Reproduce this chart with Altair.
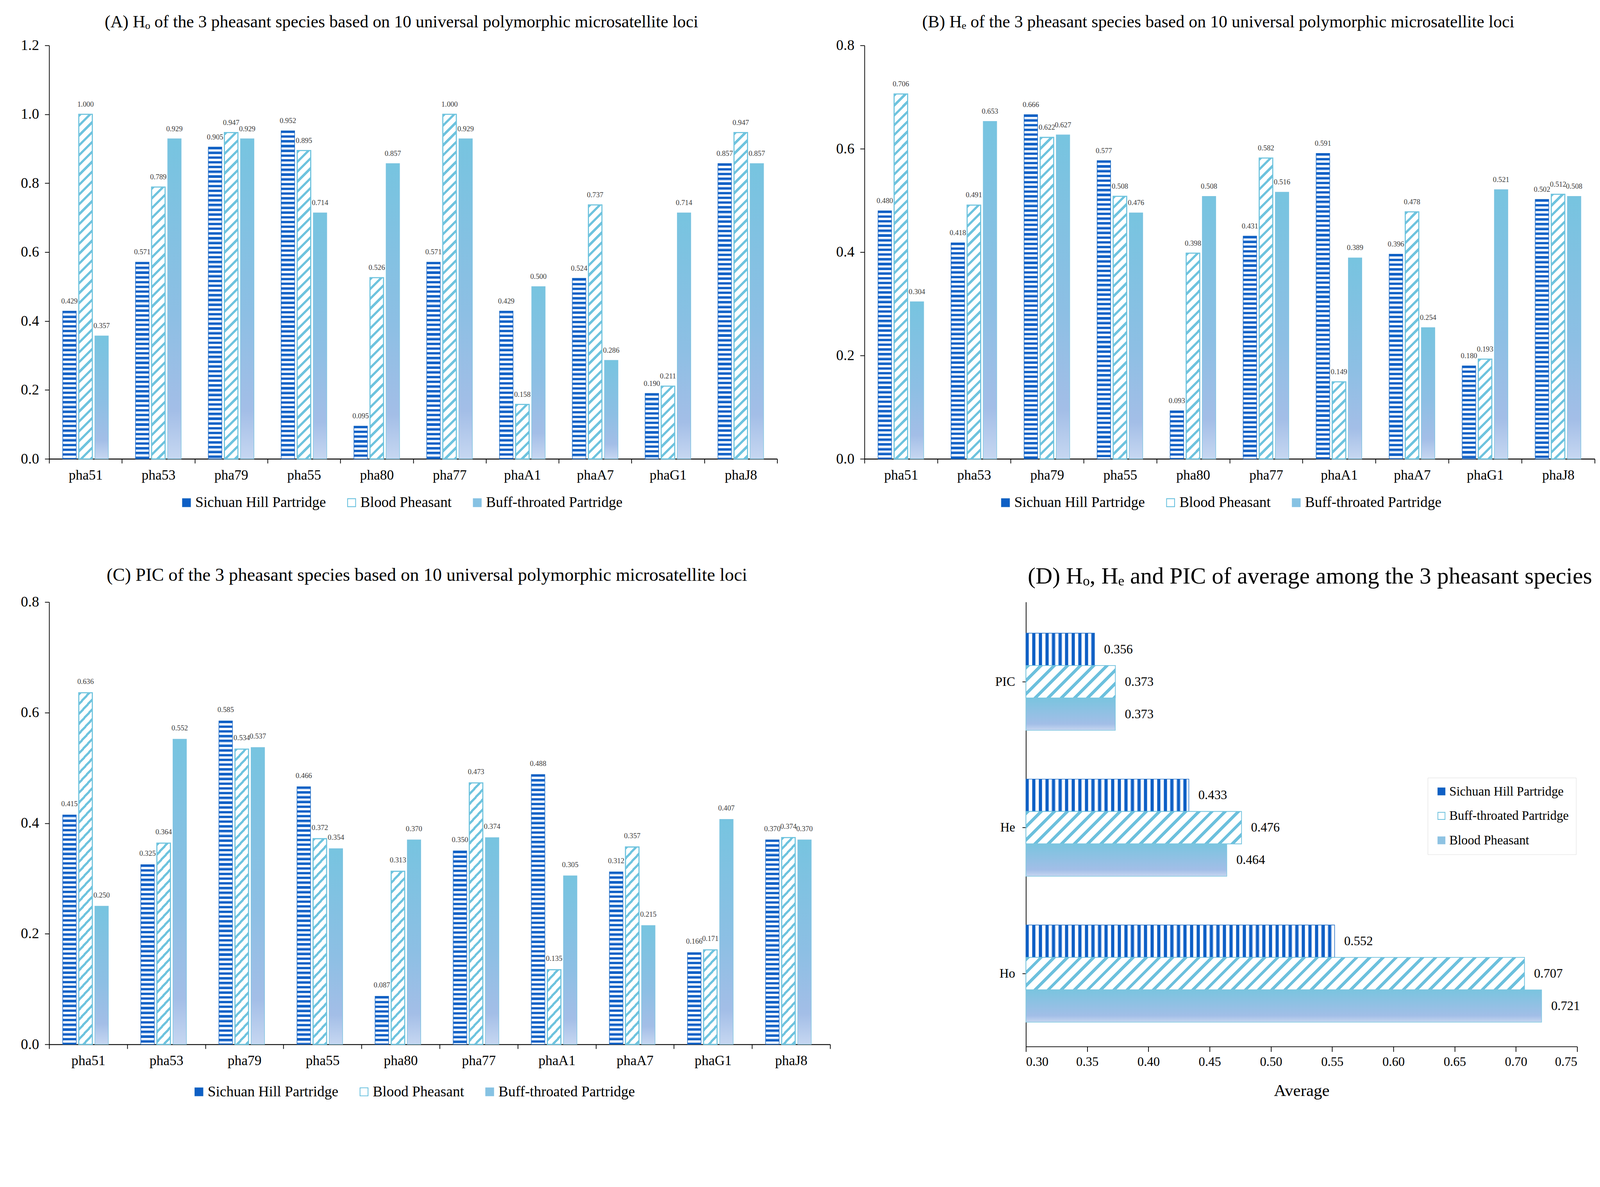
import altair as alt

FONT = "Liberation Serif"

# ---------------- data ----------------
loci = ["pha51", "pha53", "pha79", "pha55", "pha80", "pha77", "phaA1", "phaA7", "phaG1", "phaJ8"]
species = ["Sichuan Hill Partridge", "Blood Pheasant", "Buff-throated Partridge"]

ho_sichuan = [0.429, 0.571, 0.905, 0.952, 0.095, 0.571, 0.429, 0.524, 0.190, 0.857]
ho_blood = [1.000, 0.789, 0.947, 0.895, 0.526, 1.000, 0.158, 0.737, 0.211, 0.947]
ho_buff = [0.357, 0.929, 0.929, 0.714, 0.857, 0.929, 0.500, 0.286, 0.714, 0.857]

he_sichuan = [0.480, 0.418, 0.666, 0.577, 0.093, 0.431, 0.591, 0.396, 0.180, 0.502]
he_blood = [0.706, 0.491, 0.622, 0.508, 0.398, 0.582, 0.149, 0.478, 0.193, 0.512]
he_buff = [0.304, 0.653, 0.627, 0.476, 0.508, 0.516, 0.389, 0.254, 0.521, 0.508]

pic_sichuan = [0.415, 0.325, 0.585, 0.466, 0.087, 0.350, 0.488, 0.312, 0.166, 0.370]
pic_blood = [0.636, 0.364, 0.534, 0.372, 0.313, 0.473, 0.135, 0.357, 0.171, 0.374]
pic_buff = [0.250, 0.552, 0.537, 0.354, 0.370, 0.374, 0.305, 0.215, 0.407, 0.370]

avg_measures = ["PIC", "He", "Ho"]
avg_species = ["Sichuan Hill Partridge", "Buff-throated Partridge", "Blood Pheasant"]
avg_sichuan = [0.356, 0.433, 0.552]
avg_buff = [0.373, 0.476, 0.707]
avg_blood = [0.373, 0.464, 0.721]

# ---------------- fill styles (gradients used as patterns) ----------------
_gid = [0]


def new_id():
    _gid[0] += 1
    return "pg%d" % _gid[0]


def band_stops(n_periods, parts):
    stops = []
    total = max(n_periods, 1e-6)
    k = 0
    while k < total:
        pos = k
        for frac, col in parts:
            a = pos / total
            if a >= 1:
                break
            b = min((pos + frac) / total, 1.0)
            stops.append({"offset": round(a, 5), "color": col})
            stops.append({"offset": round(b, 5), "color": col})
            pos += frac
        k += 1
    return stops


def stripes(length, period, parts, along_y):
    return {"gradient": "linear", "id": new_id(), "x1": 0, "y1": 0,
            "x2": 0 if along_y else 1, "y2": 1 if along_y else 0,
            "stops": band_stops(length / period, parts)}


def hatch(w, h, period, parts):
    L = w + h
    s = L / (w * w + h * h)
    return {"gradient": "linear", "id": new_id(), "x1": 0, "y1": 0,
            "x2": round(w * s, 6), "y2": round(h * s, 6),
            "stops": band_stops(L / period, parts)}


DARK = "#0E5FC5"
SICH_H = [(0.42, DARK), (0.10, "#8DB5EA"), (0.38, "#FFFFFF"), (0.10, "#8DB5EA")]
SICH_V = [(0.40, DARK), (0.08, "#6FA0E0"), (0.44, "#FFFFFF"), (0.08, "#6FA0E0")]
HATCH_A = [(0.33, "#6EC3DE"), (0.67, "#FFFFFF")]
HATCH_D = [(0.32, "#6CC0DD"), (0.68, "#FFFFFF")]

BUFF_GRAD = {"gradient": "linear", "id": "buffgrad", "x1": 0, "y1": 0, "x2": 0, "y2": 1,
             "stops": [{"offset": 0, "color": "#77C4E0"}, {"offset": 0.55, "color": "#8DBFE4"},
                       {"offset": 0.85, "color": "#A3BEE7"}, {"offset": 1, "color": "#C6D7F1"}]}
BLOOD_D_GRAD = {"gradient": "linear", "id": "blooddgrad", "x1": 0, "y1": 0, "x2": 0, "y2": 1,
                "stops": [{"offset": 0, "color": "#7AC4DF"}, {"offset": 0.8, "color": "#A2BEE7"},
                          {"offset": 1, "color": "#C6D6F0"}]}

AX = dict(labelFont=FONT, labelColor="black", domainColor="black", tickColor="black",
          titleFont=FONT, titleColor="black", grid=False)


def vpanel(series, ymax, W, H, pi, po, title, tfont, tdx, toffset, legx, legy, label_dy, yvals):
    step = W / 10.0
    step2 = step / (3 - pi + 2 * po)
    bw = step2 * (1 - pi)
    recs = []
    for s, vals in zip(species, series):
        for l, v in zip(loci, vals):
            h = v / ymax * H
            if s == species[0]:
                g, sc, sw = stripes(h, 13, SICH_H, True), "#1565C0", 1.5
            elif s == species[1]:
                g, sc, sw = hatch(bw, h, 27, HATCH_A), "#6EC3DE", 3
            else:
                g, sc, sw = BUFF_GRAD, "#7EC4E0", 1.5
            recs.append({"locus": l, "species": s, "value": v, "grad": g, "sc": sc, "sw": sw})
    base = alt.Chart(alt.Data(values=recs))
    x = alt.X("locus:N", sort=loci, title=None,
              scale=alt.Scale(paddingInner=0, paddingOuter=0),
              axis=alt.Axis(labelAngle=0, labelFontSize=38, tickBand="extent", tickSize=12,
                            labelPadding=14, domainWidth=2.5, tickWidth=2, **AX))
    xo = alt.XOffset("species:N", sort=species,
                     scale=alt.Scale(paddingInner=pi, paddingOuter=po))
    y = alt.Y("value:Q", stack=None, title=None,
              scale=alt.Scale(domain=[0, ymax], nice=False, zero=True),
              axis=alt.Axis(values=yvals, format=".1f", tickSize=12, labelFontSize=40,
                            labelPadding=16, domainWidth=2, tickWidth=2, **AX))
    bars = base.mark_bar().encode(
        x=x, xOffset=xo, y=y,
        fill=alt.value({"expr": "datum.grad"}),
        stroke=alt.value({"expr": "datum.sc"}),
        strokeWidth=alt.value({"expr": "datum.sw"}),
    )
    labels = base.mark_text(dy=-label_dy, fontSize=20, font=FONT, color="#3a3a3a",
                            baseline="middle").encode(
        x=x, xOffset=xo, y=y, text=alt.Text("value:Q", format=".3f"))
    leg = alt.Legend(title=None, orient="none", legendX=legx, legendY=legy,
                     direction="horizontal", columns=3, labelFont=FONT, labelFontSize=40,
                     labelColor="black", symbolType="square", symbolSize=480,
                     symbolStrokeWidth=2, symbolOpacity=1, columnPadding=50,
                     labelOffset=4, padding=0, labelLimit=2000)
    legend_layer = base.mark_square(opacity=0).encode(
        x=x, xOffset=xo, y=y,
        fill=alt.Fill("species:N", sort=species,
                      scale=alt.Scale(domain=species, range=[DARK, "#FFFFFF", "#86C2E3"]),
                      legend=leg),
        stroke=alt.Stroke("species:N", sort=species,
                          scale=alt.Scale(domain=species, range=["#1565C0", "#5BBBDB", "#86C2E3"]),
                          legend=leg),
    )
    return alt.layer(bars, labels, legend_layer).properties(
        width=W, height=H,
        title=alt.TitleParams(title, font=FONT, fontSize=tfont, fontWeight="normal", color="black",
                              anchor="middle", offset=toffset, dx=tdx),
    )


A = vpanel([ho_sichuan, ho_blood, ho_buff], 1.2, 1993, 1132, 0.159, 0.8445,
           "(A) H\u2092 of the 3 pheasant species based on 10 universal polymorphic microsatellite loci",
           47, -32, 19, 356, 1232, 27, [0, 0.2, 0.4, 0.6, 0.8, 1.0, 1.2])
B = vpanel([he_sichuan, he_blood, he_buff], 0.8, 1999, 1132, 0.159, 0.8445,
           "(B) H\u2091 of the 3 pheasant species based on 10 universal polymorphic microsatellite loci",
           47, -31, 19, 366, 1232, 27, [0, 0.2, 0.4, 0.6, 0.8])
C = vpanel([pic_sichuan, pic_blood, pic_buff], 0.8, 2138, 1211, 0.149, 0.849,
           "(C) PIC of the 3 pheasant species based on 10 universal polymorphic microsatellite loci",
           50, -35, 28, 390, 1321, 30, [0, 0.2, 0.4, 0.6, 0.8])

# ---------------- panel D ----------------
WD, HD = 1509, 1217
pinD, poD = 0.0, 0.023
stepD = HD / (3 + 2 * poD)
barD = stepD / (3 + 2 * 0.752)
recsD = []
for s, vals in zip(avg_species, [avg_sichuan, avg_buff, avg_blood]):
    for m, v in zip(avg_measures, vals):
        w = (v - 0.3) / 0.45 * WD
        if s == avg_species[0]:
            g, sc, sw = stripes(w, 18, SICH_V, False), "#1565C0", 1.5
        elif s == avg_species[1]:
            g, sc, sw = hatch(w, barD, 36, HATCH_D), "#6CC0DD", 2
        else:
            g, sc, sw = BLOOD_D_GRAD, "#7BC6E0", 1.5
        recsD.append({"measure": m, "species": s, "value": v, "grad": g, "sc": sc, "sw": sw})

baseD = alt.Chart(alt.Data(values=recsD))
xD = alt.X("value:Q", title="Average",
           scale=alt.Scale(domain=[0.3, 0.75], nice=False, zero=False),
           axis=alt.Axis(values=[0.30, 0.35, 0.40, 0.45, 0.50, 0.55, 0.60, 0.65, 0.70, 0.75],
                         format=".2f", tickSize=14, labelFontSize=35, labelPadding=10,
                         titleFontSize=46, titleFontWeight="normal", titlePadding=40,
                         domainWidth=2, tickWidth=2, **AX))
yD = alt.Y("measure:N", sort=avg_measures, title=None,
           scale=alt.Scale(paddingInner=pinD, paddingOuter=poD, align=1),
           axis=alt.Axis(labelFontSize=35, tickSize=10, labelPadding=20, domainWidth=2,
                         tickWidth=2, **AX))
yoD = alt.YOffset("species:N", sort=avg_species,
                  scale=alt.Scale(paddingInner=0, paddingOuter=0.752))
barsD = baseD.mark_bar().encode(
    x=xD, x2=alt.X2(datum=0.3), y=yD, yOffset=yoD,
    fill=alt.value({"expr": "datum.grad"}),
    stroke=alt.value({"expr": "datum.sc"}),
    strokeWidth=alt.value({"expr": "datum.sw"}),
)
labelsD = baseD.mark_text(dx=26, align="left", baseline="middle", fontSize=35, font=FONT,
                          color="black").encode(
    x=xD, y=yD, yOffset=yoD, text=alt.Text("value:Q", format=".3f"))
legD = alt.Legend(title=None, orient="none", legendX=1100, legendY=481, direction="vertical",
                  labelFont=FONT, labelFontSize=35, labelColor="black", symbolType="square",
                  symbolSize=380, symbolStrokeWidth=2, symbolOpacity=1, rowPadding=31,
                  labelOffset=4, padding=20, strokeColor="#D9D9D9", fillColor="white",
                  labelLimit=2000)
legendD = baseD.mark_square(opacity=0).encode(
    x=xD, y=yD, yOffset=yoD,
    fill=alt.Fill("species:N", sort=avg_species,
                  scale=alt.Scale(domain=avg_species, range=[DARK, "#FFFFFF", "#8EC3E3"]),
                  legend=legD),
    stroke=alt.Stroke("species:N", sort=avg_species,
                      scale=alt.Scale(domain=avg_species, range=["#1565C0", "#6CC0DD", "#8EC3E3"]),
                      legend=legD),
)
D = alt.layer(barsD, labelsD, legendD).properties(
    width=WD, height=HD,
    title=alt.TitleParams("(D) H\u2092, H\u2091 and PIC of average among the 3 pheasant species",
                          font=FONT, fontSize=64, fontWeight="normal", color="black",
                          anchor="middle", frame="group", offset=38, dx=23),
)

row1 = alt.hconcat(A, B, spacing=239, bounds="flush").resolve_scale(
    fill="independent", stroke="independent").resolve_legend(fill="independent", stroke="independent")
row2 = alt.hconcat(C, D, spacing=536, bounds="flush").resolve_scale(
    fill="independent", stroke="independent").resolve_legend(fill="independent", stroke="independent")

chart = alt.vconcat(row1, row2, spacing=1524, bounds="flush").resolve_scale(
    fill="independent", stroke="independent").resolve_legend(
    fill="independent", stroke="independent").properties(
    padding={"left": 48, "top": -72, "right": 5, "bottom": 5},
    background="white",
).configure_view(stroke=None)

chart.save("out.html", embed_options={"renderer": "svg", "actions": False})
